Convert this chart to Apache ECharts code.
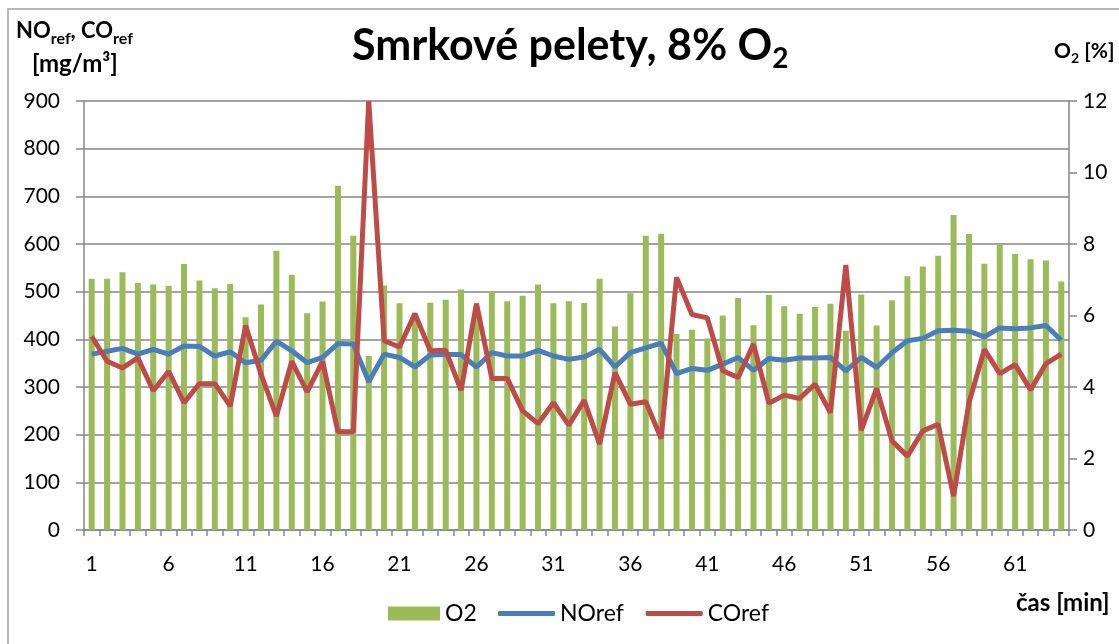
<!DOCTYPE html>
<html>
<head>
<meta charset="utf-8">
<script src="https://cdn.jsdelivr.net/npm/echarts@6/dist/echarts.min.js"></script>
<style>
  html, body { margin: 0; padding: 0; background: #fff; }
  #main { width: 1119px; height: 644px; }
</style>
</head>
<body>
<div id="main"></div>
<script>
// čas [min]
var casy = [1,2,3,4,5,6,7,8,9,10,11,12,13,14,15,16,17,18,19,20,21,22,23,24,25,26,27,28,29,30,31,32,
            33,34,35,36,37,38,39,40,41,42,43,44,45,46,47,48,49,50,51,52,53,54,55,56,57,58,59,60,61,62,63,64];
// O2 [%]
var o2 = [7.03,7.03,7.21,6.91,6.87,6.83,7.44,6.98,6.76,6.88,
          5.95,6.31,7.81,7.14,6.06,6.39,9.63,8.23,4.87,6.84,
          6.34,5.95,6.36,6.44,6.73,6.15,6.67,6.40,6.55,6.87,
          6.34,6.40,6.35,7.03,5.69,6.62,8.23,8.29,5.48,5.60,
          5.36,6.00,6.49,5.73,6.57,6.26,6.05,6.24,6.33,5.57,
          6.59,5.72,6.43,7.10,7.37,7.67,8.81,8.28,7.45,7.99,
          7.72,7.57,7.54,6.95];
// NOref [mg/m3]
var noRef = [369,375,381,369,379,369,386,385,365,374,
             351,356,396,376,351,362,391,390,311,369,
             362,342,367,368,368,342,372,365,365,377,
             365,358,363,379,342,372,382,392,328,339,
             335,348,362,335,360,356,361,361,362,334,
             362,341,372,397,402,418,419,417,405,424,
             422,424,429,398];
// COref [mg/m3]
var coRef = [406,354,340,361,292,333,267,307,307,260,
             429,327,239,354,290,354,206,206,900,397,
             384,454,376,377,293,475,318,318,250,223,
             267,220,272,180,330,264,269,192,530,452,
             445,334,320,390,266,283,276,306,246,556,
             209,297,187,155,208,222,71,267,379,328,
             347,294,349,369];

var font = 'Lato, "Liberation Sans", sans-serif';
var seda = '#868686';

var myChart = echarts.init(document.getElementById('main'));

var option = {
    backgroundColor: '#fff',
    textStyle: { fontFamily: font, color: '#000' },
    title: {
        text: '{m|Smrkové pelety, 8% O}{s|2}',
        left: 347,
        top: 14,
        textStyle: {
            rich: {
                m: { fontFamily: font, fontSize: 43, fontWeight: 'bold', color: '#000', lineHeight: 54 },
                s: { fontFamily: font, fontSize: 28, fontWeight: 'bold', color: '#000', lineHeight: 24, verticalAlign: 'bottom' }
            }
        }
    },
    legend: [
        {
            data: ['O2'],
            left: 383,
            top: 597,
            itemWidth: 52,
            itemHeight: 14,
            itemGap: 5,
            icon: 'rect',
            textStyle: { fontFamily: font, fontSize: 23, color: '#000' }
        },
        {
            data: ['NOref', 'COref'],
            left: 493,
            top: 597,
            itemWidth: 57,
            itemHeight: 5,
            itemGap: 22,
            icon: 'roundRect',
            textStyle: { fontFamily: font, fontSize: 23, color: '#000' }
        }
    ],
    grid: { left: 84, right: 50, top: 101, bottom: 114, containLabel: false },
    xAxis: {
        type: 'category',
        data: casy,
        boundaryGap: true,
        axisLine: { lineStyle: { color: seda, width: 1.5 } },
        axisTick: { show: true, interval: 0, length: 6, lineStyle: { color: seda, width: 1.5 } },
        axisLabel: { interval: 4, fontSize: 21, color: '#000', margin: 24, fontFamily: font },
        splitLine: { show: false }
    },
    yAxis: [
        {
            type: 'value',
            min: 0, max: 900, interval: 100,
            position: 'left',
            axisLine: { show: true, lineStyle: { color: seda, width: 1.5 } },
            axisTick: { show: true, length: 8, lineStyle: { color: seda, width: 1.5 } },
            axisLabel: { fontSize: 21, color: '#000', margin: 24, fontFamily: font },
            splitLine: { show: true, lineStyle: { color: seda, width: 1.5 } }
        },
        {
            type: 'value',
            min: 0, max: 12, interval: 2,
            position: 'right',
            axisLine: { show: true, lineStyle: { color: seda, width: 1.5 } },
            axisTick: { show: true, length: 8, lineStyle: { color: seda, width: 1.5 } },
            axisLabel: { fontSize: 21, color: '#000', margin: 14, fontFamily: font },
            splitLine: { show: false }
        }
    ],
    graphic: [
        {
            type: 'rect',
            shape: { x: 8, y: 9, width: 1200, height: 700 },
            style: { fill: 'none', stroke: '#a0a0a0', lineWidth: 1.5 },
            silent: true, z: -10
        },
        {
            type: 'text',
            left: 16, top: 20,
            style: {
                text: '{b|NO}{r|ref}{b|, CO}{r|ref}\n{c|[mg/m³]}',
                rich: {
                    b: { fontFamily: font, fontSize: 22, fontWeight: 'bold', fill: '#000', lineHeight: 32 },
                    r: { fontFamily: font, fontSize: 16, fontWeight: 'bold', fill: '#000', lineHeight: 22, verticalAlign: 'bottom' },
                    c: { fontFamily: font, fontSize: 24, fontWeight: 'bold', fill: '#000', lineHeight: 34, padding: [0, 0, 0, 16] }
                }
            }
        },
        {
            type: 'text',
            left: 1054, top: 41,
            style: {
                text: '{b|O}{r|2}{b| [%]}',
                rich: {
                    b: { fontFamily: font, fontSize: 21, fontWeight: 'bold', fill: '#000', lineHeight: 28 },
                    r: { fontFamily: font, fontSize: 14, fontWeight: 'bold', fill: '#000', lineHeight: 18, verticalAlign: 'bottom' }
                }
            }
        },
        {
            type: 'text',
            left: 1016, top: 591,
            style: { text: 'čas [min]', fontFamily: font, fontSize: 24, fontWeight: 'bold', fill: '#000' }
        }
    ],
    series: [
        {
            name: 'O2',
            type: 'bar',
            yAxisIndex: 1,
            data: o2,
            barWidth: 6,
            itemStyle: { color: '#9BBB59' },
            z: 1
        },
        {
            name: 'NOref',
            type: 'line',
            yAxisIndex: 0,
            data: noRef,
            symbol: 'none',
            lineStyle: { color: '#4A7EBB', width: 5 },
            itemStyle: { color: '#4A7EBB' },
            z: 3
        },
        {
            name: 'COref',
            type: 'line',
            yAxisIndex: 0,
            data: coRef,
            symbol: 'none',
            lineStyle: { color: '#BE4B48', width: 5 },
            itemStyle: { color: '#BE4B48' },
            z: 4
        }
    ]
};

myChart.setOption(option);
</script>
</body>
</html>
